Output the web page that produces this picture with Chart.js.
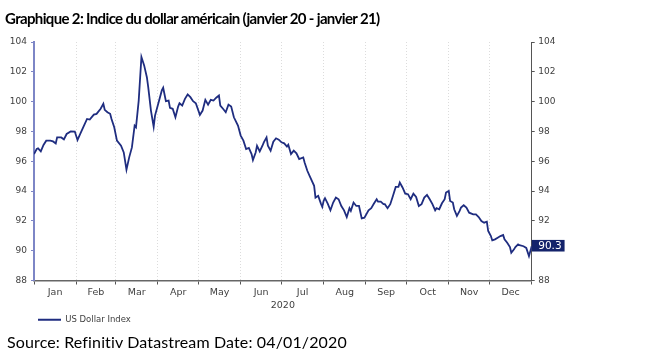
<!DOCTYPE html>
<html><head><meta charset="utf-8">
<script src="https://cdn.jsdelivr.net/npm/chart.js@4.4.1/dist/chart.umd.min.js"></script>
<style>
html,body{margin:0;padding:0;background:#fff;}
#wrap{position:relative;width:658px;height:357px;overflow:hidden;background:#fff;}
#c{position:absolute;left:0;top:0;}
.txt{position:absolute;white-space:nowrap;color:#000;font-family:Lato,'Liberation Sans',sans-serif;line-height:1;}
#title{left:5px;top:10.5px;font-weight:bold;font-size:15px;}
#source{left:7px;top:333.8px;font-size:16px;}
</style></head><body>
<div id="wrap">
<canvas id="c" width="658" height="357"></canvas>
<div id="title" class="txt">Graphique 2: Indice du dollar américain (janvier 20 - janvier 21)</div>
<div id="source" class="txt">Source: Refinitiv Datastream Date: 04/01/2020</div>
</div>
<script>
const monthLabels = ['Jan','Feb','Mar','Apr','May','Jun','Jul','Aug','Sep','Oct','Nov','Dec'];
const monthStartDays = [0,31,60,91,121,152,182,213,244,274,305,335,366];
const yTicks = [88,90,92,94,96,98,100,102,104];
const seriesName = 'US Dollar Index';
const xAxisTitle = '2020';
const lastLabel = '90.3';

// day of year 2020 (0 = 1 Jan)
const dayOfYear = [
0,2,3,5,7,9,12,14,16,17,20,22,24,27,30,32,34,36,39,41,44,46,49,51,52,54,56,57,59,61,64,66,68,70,72,74,75,77,79,81,83,84,86,88,89,
92,94,95,97,99,100,102,104,106,107,109,111,113,115,117,119,122,124,126,128,130,132,134,136,137,139,141,143,145,147,150,152,154,156,158,160,161,163,164,166,168,169,171,172,174,176,178,180,182,
184,186,187,189,191,193,195,198,199,201,203,206,207,209,211,212,213,214,216,218,220,222,224,226,228,230,232,233,235,237,239,241,243,246,248,250,252,253,255,257,258,260,262,264,266,268,269,271,273,275,
277,279,281,283,285,287,289,291,293,295,296,298,300,302,303,305,306,308,309,311,313,314,316,318,320,323,325,327,329,331,333,334,336,337,339,341,343,345,346,348,350,351,353,354,356,357,360,362,364,365,366
];
const usdIndex = [
96.48,96.82,96.86,96.66,97.09,97.38,97.38,97.33,97.2,97.6,97.6,97.47,97.83,98.0,97.99,97.43,97.83,98.24,98.84,98.8,99.13,99.18,99.52,99.85,99.45,99.29,99.18,98.84,98.28,97.38,97.04,96.59,95.43,96.26,96.93,98.39,98.28,100.07,102.99,102.43,101.64,100.97,99.4,98.32,99.06,
100.07,100.75,100.93,100.03,100.07,99.58,99.52,98.95,99.67,99.89,99.74,100.19,100.48,100.3,100.03,99.89,99.11,99.4,100.12,99.8,100.12,100.07,100.26,100.41,99.74,99.52,99.29,99.8,99.67,98.95,98.39,97.72,97.38,96.82,96.89,96.48,96.08,96.59,97.04,96.66,97.04,97.27,97.6,97.04,96.71,97.31,97.54,97.45,97.27,
97.2,96.98,97.11,96.48,96.71,96.53,96.15,96.26,95.92,95.36,94.96,94.35,93.56,93.68,93.16,92.94,93.34,93.52,93.16,92.71,93.23,93.56,93.45,93.0,92.71,92.26,92.85,92.67,93.23,93.0,93.0,92.17,92.21,92.71,92.85,93.16,93.45,93.29,93.29,93.12,93.12,92.85,93.12,93.68,94.28,94.28,94.57,94.24,93.83,93.79,
93.45,93.83,93.61,93.0,93.12,93.56,93.74,93.45,93.12,92.71,92.85,92.78,93.18,93.45,93.9,94.01,93.34,93.23,92.78,92.33,92.67,92.89,93.05,92.89,92.55,92.44,92.44,92.26,91.99,91.88,91.95,91.32,90.98,90.69,90.76,90.87,90.98,91.05,90.76,90.53,90.24,89.86,90.09,90.24,90.42,90.37,90.3,90.19,89.64,89.97,90.3
];

// keep the reference's text widths by adjusting letter spacing
function fitSpacing(id, target){
  const el = document.getElementById(id);
  const n = el.textContent.length;
  el.style.letterSpacing = ((target - el.offsetWidth) / n) + 'px';
}
fitSpacing('title', 375);
fitSpacing('source', 340);

const lastValue = usdIndex[usdIndex.length - 1];
const points = dayOfYear.map((d, i) => ({x: d, y: usdIndex[i]}));
const monthMids = monthLabels.map((m, i) => (monthStartDays[i] + monthStartDays[i + 1]) / 2);

const LINE = '#1f2d80';
const BOX = '#14236b';
const TXT = '#404040';
const FAM = "'DejaVu Sans', Verdana, sans-serif";

new Chart(document.getElementById('c'), {
  type: 'line',
  data: {datasets: [{
    label: seriesName, data: points, borderColor: LINE, backgroundColor: LINE,
    borderWidth: 1.8, pointRadius: 0, tension: 0, xAxisID: 'x', yAxisID: 'y'
  }]},
  options: {
    responsive: false, animation: false, devicePixelRatio: 1,
    layout: {padding: {top: 42, left: 0, right: 0, bottom: 23}},
    plugins: {
      tooltip: {enabled: false},
      legend: {
        display: true, position: 'bottom', align: 'start', fullSize: false,
        labels: {usePointStyle: true, pointStyle: 'line', pointStyleWidth: 23, padding: 4,
                 color: TXT, font: {family: FAM, size: 8.5}}
      }
    },
    scales: {
      x: {
        type: 'linear', position: 'bottom', min: 0, max: 366, weight: 0,
        afterBuildTicks: s => { s.ticks = monthStartDays.map(v => ({value: v})); },
        afterFit: s => { s.height = 5; },
        ticks: {display: false},
        grid: {display: true, drawOnChartArea: true, color: '#dcdcdc', lineWidth: 1,
               drawTicks: true, tickLength: 4, tickColor: '#555', tickBorderDash: [], tickWidth: 1},
        border: {display: true, color: '#666', width: 1.5, dash: [1, 2]}
      },
      xl: {
        type: 'linear', position: 'bottom', min: 0, max: 366, weight: 1,
        afterBuildTicks: s => { s.ticks = monthMids.map(v => ({value: v})); },
        afterFit: s => { s.height = 26; },
        ticks: {autoSkip: false, maxRotation: 0, padding: 1, color: TXT, font: {family: FAM, size: 9.5},
                callback: (v, i) => monthLabels[i]},
        grid: {display: false, drawTicks: false},
        border: {display: false},
        title: {display: true, text: xAxisTitle, color: TXT, font: {family: FAM, size: 9.5}, padding: {top: 0, bottom: 0}}
      },
      y: {
        type: 'linear', position: 'left', min: 88, max: 104,
        afterBuildTicks: s => { s.ticks = yTicks.map(v => ({value: v})); },
        afterFit: s => { s.width = 34; },
        ticks: {autoSkip: false, padding: 4, color: TXT, font: {family: FAM, size: 9}},
        grid: {drawOnChartArea: false, drawTicks: true, tickLength: 3, tickColor: '#7d86c6'},
        border: {display: true, color: '#7d86c6', width: 2}
      },
      y2: {
        type: 'linear', position: 'right', min: 88, max: 104,
        afterBuildTicks: s => { s.ticks = yTicks.map(v => ({value: v})).concat([{value: lastValue}]); },
        afterFit: s => { s.width = 126.3; },
        ticks: {
          autoSkip: false, padding: 3.5,
          font: c => (c.tick && c.tick.value === lastValue) ? {family: FAM, size: 10.5} : {family: FAM, size: 9},
          color: c => {
            const v = c.tick ? c.tick.value : 0;
            if (v === lastValue) return '#ffffff';
            if (Math.abs(v - lastValue) < 1) return 'rgba(0,0,0,0)';
            return TXT;
          },
          callback: v => v === lastValue ? lastLabel : v,
          showLabelBackdrop: c => !!(c.tick && c.tick.value === lastValue),
          backdropColor: BOX,
          backdropPadding: {left: 7, right: 3, top: 0, bottom: -1}
        },
        grid: {drawOnChartArea: false, drawTicks: true, tickLength: 3, tickColor: '#555'},
        border: {display: true, color: '#555', width: 1}
      }
    }
  }
});
</script>
</body></html>
